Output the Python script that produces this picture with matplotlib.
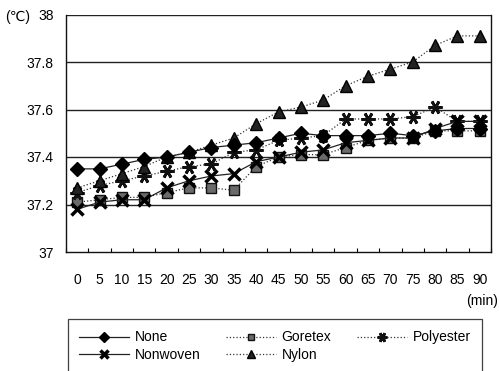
import numpy as np
import matplotlib.pyplot as plt

plt.rcParams['font.family'] = ['Liberation Sans', 'DejaVu Sans']

# data
minutes = ['0', '5', '10', '15', '20', '25', '30', '35', '40', '45',
           '50', '55', '60', '65', '70', '75', '80', '85', '90']
none_t = [37.35, 37.35, 37.37, 37.39, 37.40, 37.42, 37.44, 37.45, 37.46, 37.48,
          37.50, 37.49, 37.49, 37.49, 37.50, 37.49, 37.51, 37.52, 37.52]
nonwoven_t = [37.18, 37.21, 37.22, 37.22, 37.27, 37.30, 37.32, 37.33, 37.38, 37.40,
              37.42, 37.43, 37.46, 37.47, 37.48, 37.48, 37.52, 37.55, 37.55]
goretex_t = [37.21, 37.22, 37.23, 37.23, 37.25, 37.27, 37.27, 37.26, 37.36, 37.40,
             37.41, 37.41, 37.44, 37.47, 37.48, 37.48, 37.51, 37.51, 37.51]
nylon_t = [37.27, 37.30, 37.33, 37.36, 37.40, 37.42, 37.45, 37.48, 37.54, 37.59,
           37.61, 37.64, 37.70, 37.74, 37.77, 37.80, 37.87, 37.91, 37.91]
polyester_t = [37.25, 37.28, 37.30, 37.32, 37.34, 37.36, 37.37, 37.42, 37.43, 37.47,
               37.48, 37.49, 37.56, 37.56, 37.56, 37.57, 37.61, 37.55, 37.55]
y_ticks = [37, 37.2, 37.4, 37.6, 37.8, 38]
y_labels = ['37', '37.2', '37.4', '37.6', '37.8', '38']

W, H = 499, 371
fig = plt.figure(figsize=(W / 100, H / 100), dpi=100)
ax = fig.add_axes([66 / W, 1 - 252 / H, (491 - 66) / W, (252 - 14.5) / H])

x = np.arange(len(minutes))

# horizontal grid lines
for v in y_ticks[1:]:
    ax.axhline(v, color='#222222', lw=1.0, zorder=1)

ax.plot(x, goretex_t, ls=':', color='#333333', lw=0.9, marker='s', ms=7,
        mfc='#6a6a6a', mec='#111111', mew=1.0, label='Goretex', zorder=3)
ax.plot(x, polyester_t, ls=':', color='#333333', lw=0.9, marker=(6, 2, 90), ms=10,
        mec='#111111', mew=2.0, label='Polyester', zorder=4)
ax.plot(x, nonwoven_t, ls='-', color='#222222', lw=0.9, marker='x', ms=9,
        mec='#000000', mew=2.5, label='Nonwoven', zorder=4)
ax.plot(x, nylon_t, ls=':', color='#333333', lw=0.9, marker='^', ms=8,
        mfc='#222222', mec='#000000', label='Nylon', zorder=4)
ax.plot(x, none_t, ls='-', color='#222222', lw=0.9, marker='D', ms=7,
        mfc='#000000', mec='#000000', label='None', zorder=5)

ax.set_xlim(-0.5, len(minutes) - 0.5)
ax.set_ylim(37, 38)
ax.set_yticks(y_ticks)
ax.set_yticklabels(y_labels)
ax.set_xticks(x)
ax.set_xticklabels(minutes)
ax.set_xticks(np.arange(len(minutes) + 1) - 0.5, minor=True)
ax.tick_params(axis='x', which='major', length=0, pad=15, labelsize=10)
ax.tick_params(axis='x', which='minor', direction='in', length=3, width=0.8)
ax.tick_params(axis='y', length=0, pad=9, labelsize=10)
ax.spines['top'].set_visible(False)
for s in ['left', 'bottom', 'right']:
    ax.spines[s].set_linewidth(1.0)
    ax.spines[s].set_color('#111111')

fig.text(5 / W, 1 - 17 / H, '(℃)', fontsize=10, va='center', ha='left')
fig.text(498 / W, 1 - 301 / H, '(min)', fontsize=10, va='center', ha='right')

handles, labels = ax.get_legend_handles_labels()
order = ['None', 'Nonwoven', 'Goretex', 'Nylon', 'Polyester']
hmap = dict(zip(labels, handles))
leg = fig.legend([hmap[k] for k in order], order, ncol=3, loc='upper left',
                 bbox_to_anchor=(68 / W, 1 - 323 / H, 414 / W, 0.01), mode='expand',
                 frameon=True, fancybox=False, borderaxespad=0,
                 edgecolor='#111111', fontsize=10, handlelength=3.6, handletextpad=0.4,
                 labelspacing=0.25, borderpad=0.8, markerscale=0.7)
leg.get_frame().set_linewidth(0.9)

fig.savefig('out.png', dpi=100)
